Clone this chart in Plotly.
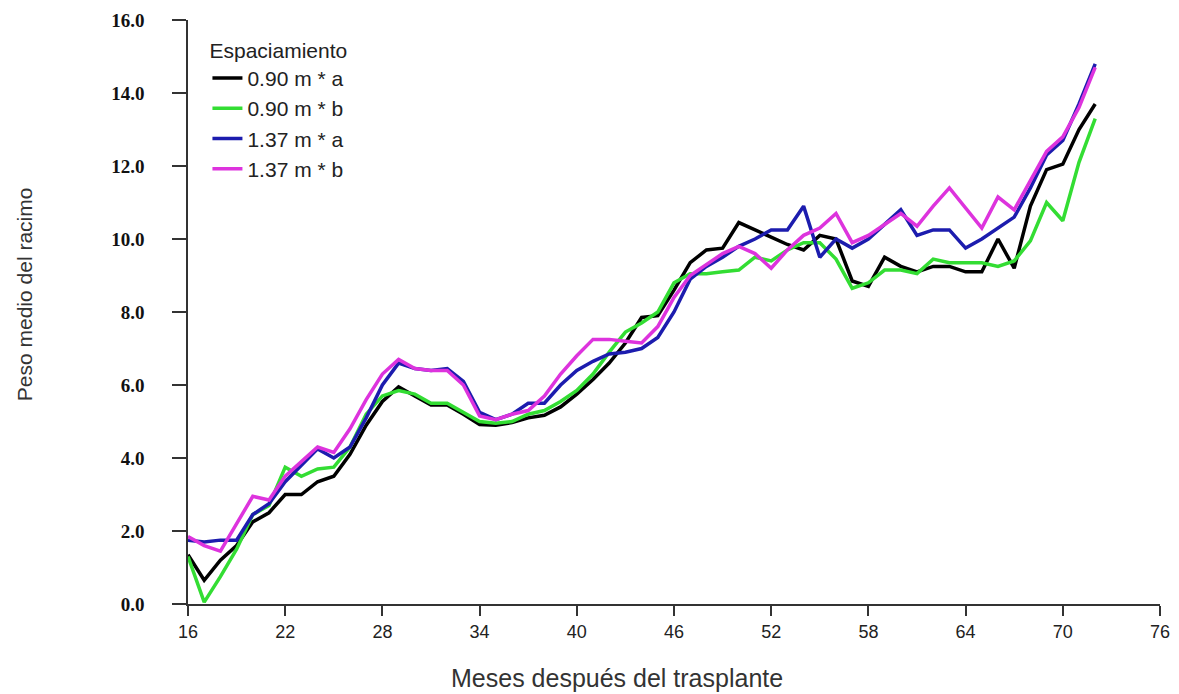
import plotly.graph_objects as go

# meses después del trasplante (16..72)
meses = list(range(16, 73))

# peso medio del racimo por espaciamiento
esp_090_a = [1.35, 0.65, 1.2, 1.6, 2.25, 2.5, 3.0, 3.0, 3.35, 3.5,
             4.1, 4.9, 5.55, 5.95, 5.7, 5.45, 5.45, 5.2, 4.92, 4.9,
             4.97, 5.1, 5.17, 5.4, 5.75, 6.15, 6.6, 7.15, 7.85, 7.9,
             8.6, 9.35, 9.7, 9.75, 10.45, 10.25, 10.05, 9.85, 9.7, 10.1,
             10.0, 8.85, 8.7, 9.5, 9.25, 9.1, 9.25, 9.25, 9.1, 9.1,
             10.0, 9.2, 10.9, 11.9, 12.05, 13.0, 13.7]
esp_090_b = [1.3, 0.05, 0.75, 1.5, 2.45, 2.7, 3.75, 3.5, 3.7, 3.75,
             4.3, 5.2, 5.7, 5.85, 5.75, 5.5, 5.5, 5.25, 5.0, 4.95,
             5.0, 5.2, 5.3, 5.55, 5.85, 6.3, 6.9, 7.45, 7.7, 8.0,
             8.8, 9.05, 9.05, 9.1, 9.15, 9.5, 9.4, 9.7, 9.9, 9.9,
             9.45, 8.65, 8.8, 9.15, 9.15, 9.05, 9.45, 9.35, 9.35, 9.35,
             9.25, 9.4, 9.95, 11.0, 10.5, 12.1, 13.3]
esp_137_a = [1.75, 1.7, 1.75, 1.75, 2.45, 2.75, 3.35, 3.8, 4.25, 4.0,
             4.3, 5.1, 6.0, 6.6, 6.45, 6.4, 6.45, 6.1, 5.25, 5.05,
             5.2, 5.5, 5.5, 6.0, 6.4, 6.65, 6.85, 6.9, 7.0, 7.3,
             8.0, 8.9, 9.25, 9.5, 9.8, 10.0, 10.25, 10.25, 10.9, 9.5,
             10.0, 9.75, 10.0, 10.4, 10.8, 10.1, 10.25, 10.25, 9.75, 10.0,
             10.3, 10.6, 11.4, 12.3, 12.7, 13.7, 14.8]
esp_137_b = [1.85, 1.6, 1.45, 2.2, 2.95, 2.85, 3.5, 3.9, 4.3, 4.15,
             4.8, 5.6, 6.3, 6.7, 6.45, 6.4, 6.4, 6.0, 5.15, 5.05,
             5.2, 5.3, 5.7, 6.3, 6.8, 7.25, 7.25, 7.2, 7.15, 7.6,
             8.4, 9.0, 9.3, 9.6, 9.8, 9.6, 9.2, 9.7, 10.1, 10.3,
             10.7, 9.9, 10.1, 10.4, 10.7, 10.35, 10.9, 11.4, 10.85, 10.3,
             11.15, 10.8, 11.6, 12.4, 12.8, 13.6, 14.7]

series = [
    ("0.90 m * a", esp_090_a, "#000000"),
    ("0.90 m * b", esp_090_b, "#33dd33"),
    ("1.37 m * a", esp_137_a, "#1c1cae"),
    ("1.37 m * b", esp_137_b, "#dd33dd"),
]

x_ticks = list(range(16, 77, 6))
y_ticks = [0, 2, 4, 6, 8, 10, 12, 14, 16]
# los nbsp separan las etiquetas del eje como en el original
y_labels = [f"{v:.1f}" + "\u00a0" * 5 for v in y_ticks]

fig = go.Figure()
for name, vals, color in series:
    fig.add_trace(go.Scatter(
        x=meses, y=vals, mode="lines", name=name, legendgroup=name,
        line=dict(color=color, width=3.5),
    ))

# la página tiene 8 px de margen de body: el tamaño lo compensa
fig.update_layout(
    width=1171, height=686,
    margin=dict(l=180, r=19, t=12, b=90, autoexpand=False),
    plot_bgcolor="white", paper_bgcolor="white",
    font=dict(family="Liberation Sans, Arial", color="#222222", size=19),
    legend=dict(
        title=dict(text="Espaciamiento", font=dict(size=21)),
        x=0.02, y=0.982, xanchor="left", yanchor="top",
        bgcolor="rgba(0,0,0,0)", font=dict(size=21),
        tracegroupgap=0, itemwidth=30,
    ),
    xaxis=dict(
        range=[16, 76], tickvals=x_ticks, showgrid=False, zeroline=False,
        showline=True, linecolor="#333333", linewidth=2,
        ticks="outside", ticklen=10, tickwidth=2, tickcolor="#333333",
        tickfont=dict(size=18, color="#222222"),
    ),
    yaxis=dict(
        range=[0, 16], tickvals=y_ticks, ticktext=y_labels, showgrid=False,
        zeroline=False, showline=True, linecolor="#333333", linewidth=2,
        ticks="outside", ticklen=14, tickwidth=2, tickcolor="#333333",
        tickfont=dict(size=19, color="#111111",
                      family="Liberation Serif", weight="bold"),
    ),
    annotations=[
        dict(text="Meses después del trasplante", xref="paper", yref="paper",
             x=0.441, y=-0.127, xanchor="center", yanchor="middle",
             showarrow=False, font=dict(size=25, color="#333333")),
        dict(text="Peso medio del racimo", xref="paper", yref="paper",
             x=-0.168, y=0.53, xanchor="center", yanchor="middle",
             textangle=-90, showarrow=False,
             font=dict(size=21, color="#333333")),
    ],
)

fig.write_html("out.html")
